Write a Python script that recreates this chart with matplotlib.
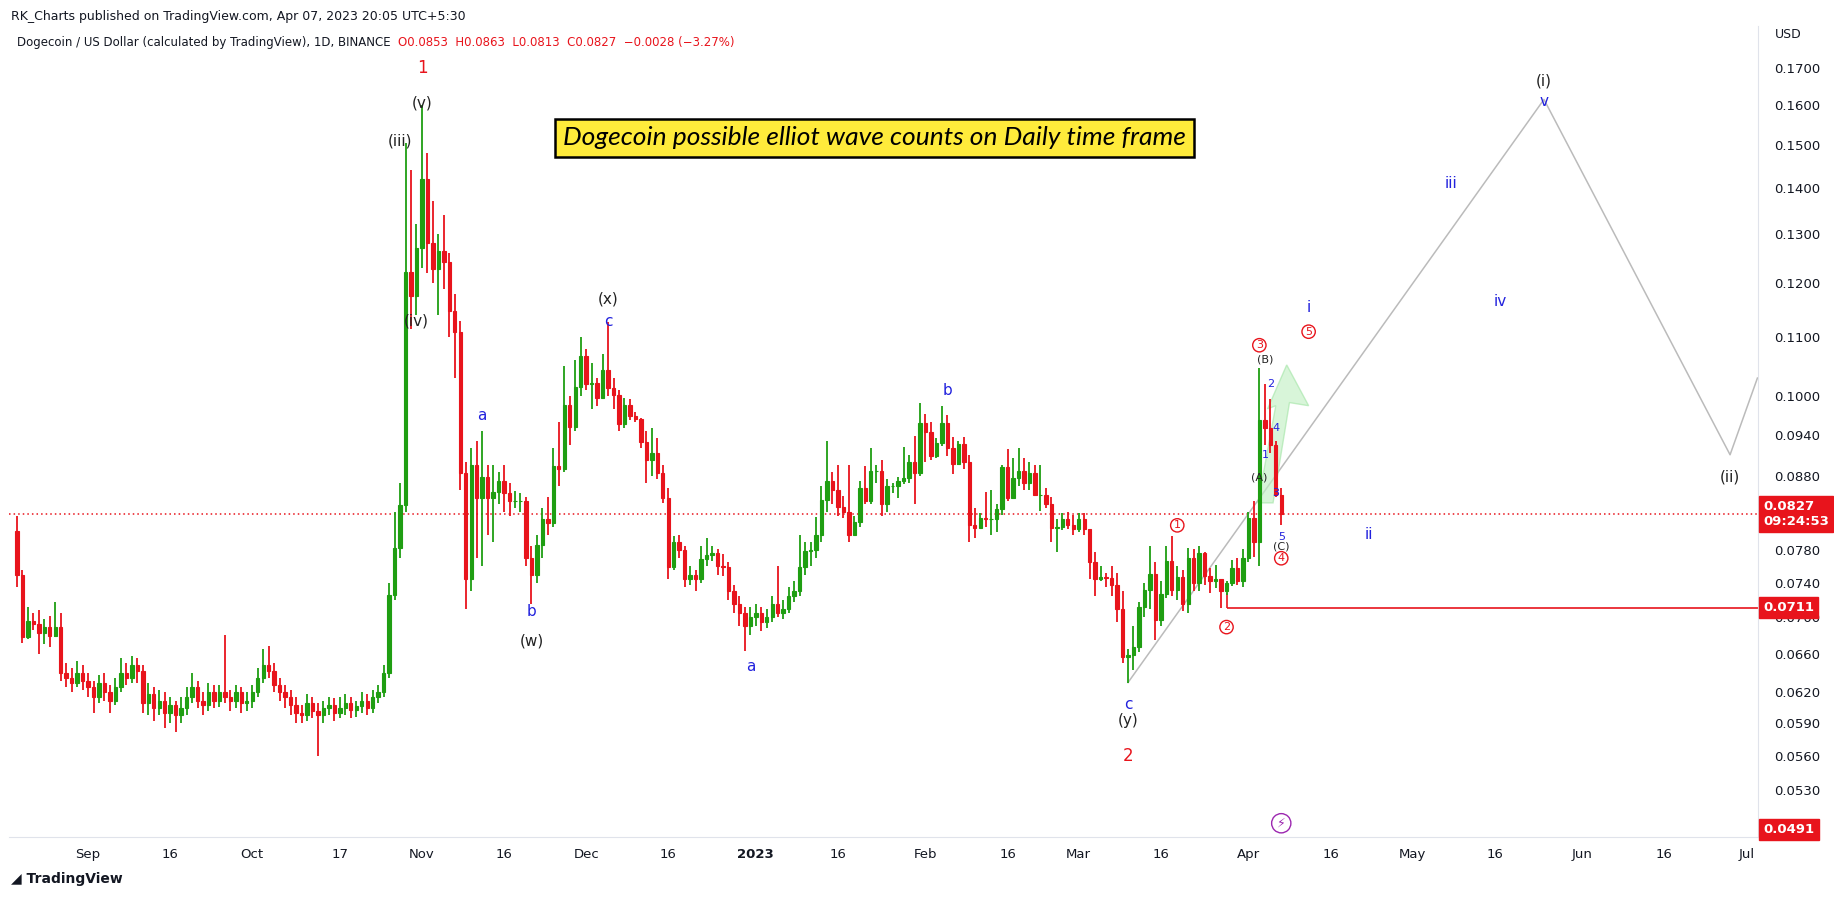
import numpy as np
import pandas as pd
import matplotlib
matplotlib.use("Agg")
import matplotlib.pyplot as plt
import matplotlib.dates as mdates
from matplotlib.patches import Polygon
from matplotlib.ticker import FixedLocator, NullLocator

# === Data (DOGE/USD daily) ===
first_open = 0.0804
closes = [
    0.0749, 0.0678, 0.0696, 0.0693, 0.0682, 0.0689, 0.0679, 0.0689, 0.0640, 0.0635,
    0.0630, 0.0640, 0.0632, 0.0625, 0.0615, 0.0630, 0.0620, 0.0612, 0.0625, 0.0640,
    0.0635, 0.0648, 0.0642, 0.0610, 0.0618, 0.0605, 0.0612, 0.0600, 0.0608, 0.0598,
    0.0605, 0.0615, 0.0625, 0.0612, 0.0608, 0.0620, 0.0612, 0.0620, 0.0615, 0.0612,
    0.0620, 0.0610, 0.0612, 0.0620, 0.0635, 0.0648, 0.0642, 0.0628, 0.0620, 0.0615,
    0.0608, 0.0600, 0.0598, 0.0610, 0.0602, 0.0598, 0.0605, 0.0608, 0.0600, 0.0605,
    0.0610, 0.0603, 0.0607, 0.0612, 0.0605, 0.0615, 0.0620, 0.0640, 0.0726, 0.0783,
    0.0839, 0.1222, 0.1175, 0.1270, 0.1420, 0.1280, 0.1228, 0.1264, 0.1243, 0.1148,
    0.1110, 0.0883, 0.0745, 0.0895, 0.0848, 0.0878, 0.0848, 0.0857, 0.0872, 0.0855,
    0.0845, 0.0845, 0.0845, 0.0770, 0.0750, 0.0787, 0.0820, 0.0815, 0.0893, 0.0890,
    0.0986, 0.0952, 0.1016, 0.1068, 0.1020, 0.1022, 0.0997, 0.1043, 0.1014, 0.1002,
    0.0957, 0.0986, 0.0968, 0.0964, 0.0929, 0.0903, 0.0913, 0.0883, 0.0848, 0.0759,
    0.0791, 0.0780, 0.0745, 0.0750, 0.0745, 0.0769, 0.0774, 0.0777, 0.0760, 0.0759,
    0.0730, 0.0715, 0.0705, 0.0690, 0.0700, 0.0705, 0.0695, 0.0700, 0.0715, 0.0705,
    0.0710, 0.0725, 0.0730, 0.0759, 0.0779, 0.0780, 0.0800, 0.0846, 0.0872, 0.0860,
    0.0837, 0.0830, 0.0800, 0.0816, 0.0863, 0.0845, 0.0886, 0.0887, 0.0840, 0.0865,
    0.0865, 0.0872, 0.0877, 0.0900, 0.0883, 0.0958, 0.0944, 0.0908, 0.0928, 0.0958,
    0.0920, 0.0897, 0.0926, 0.0900, 0.0813, 0.0809, 0.0822, 0.0821, 0.0821, 0.0834,
    0.0892, 0.0849, 0.0877, 0.0887, 0.0869, 0.0883, 0.0853, 0.0853, 0.0841, 0.0809,
    0.0810, 0.0821, 0.0813, 0.0807, 0.0820, 0.0807, 0.0765, 0.0745, 0.0747, 0.0746,
    0.0738, 0.0709, 0.0657, 0.0659, 0.0667, 0.0712, 0.0731, 0.0751, 0.0697, 0.0727,
    0.0766, 0.0731, 0.0747, 0.0715, 0.0770, 0.0740, 0.0776, 0.0748, 0.0742, 0.0745,
    0.0730, 0.0740, 0.0758, 0.0742, 0.0770, 0.0822, 0.0791, 0.0962, 0.0950, 0.0925,
    0.0853, 0.0827,
]
highs = [
    0.0824, 0.0755, 0.0712, 0.0705, 0.0708, 0.0698, 0.0702, 0.0718, 0.0705, 0.0650,
    0.0645, 0.0652, 0.0648, 0.0640, 0.0632, 0.0638, 0.0640, 0.0628, 0.0635, 0.0655,
    0.0650, 0.0658, 0.0655, 0.0648, 0.0630, 0.0625, 0.0622, 0.0620, 0.0615, 0.0612,
    0.0615, 0.0625, 0.0640, 0.0632, 0.0620, 0.0630, 0.0628, 0.0628, 0.0680, 0.0622,
    0.0628, 0.0625, 0.0620, 0.0628, 0.0645, 0.0665, 0.0668, 0.0650, 0.0635, 0.0628,
    0.0622, 0.0615, 0.0608, 0.0618, 0.0615, 0.0610, 0.0612, 0.0615, 0.0614, 0.0615,
    0.0618, 0.0615, 0.0612, 0.0620, 0.0618, 0.0622, 0.0628, 0.0648, 0.0740, 0.0830,
    0.0870, 0.1505, 0.1440, 0.1320, 0.1600, 0.1480, 0.1370, 0.1300, 0.1340, 0.1260,
    0.1180, 0.1130, 0.0900, 0.0920, 0.0930, 0.0945, 0.0895, 0.0895, 0.0885, 0.0895,
    0.0870, 0.0858, 0.0855, 0.0850, 0.0785, 0.0800, 0.0835, 0.0850, 0.0920, 0.0960,
    0.1050, 0.1000, 0.1060, 0.1100, 0.1080, 0.1055, 0.1030, 0.1070, 0.1127, 0.1030,
    0.1010, 0.0998, 0.0995, 0.0975, 0.0966, 0.0945, 0.0950, 0.0935, 0.0895, 0.0862,
    0.0798, 0.0800, 0.0785, 0.0760, 0.0755, 0.0785, 0.0795, 0.0785, 0.0782, 0.0775,
    0.0765, 0.0738, 0.0725, 0.0712, 0.0712, 0.0715, 0.0712, 0.0710, 0.0725, 0.0760,
    0.0720, 0.0735, 0.0742, 0.0800, 0.0790, 0.0790, 0.0823, 0.0865, 0.0930, 0.0885,
    0.0895, 0.0852, 0.0895, 0.0825, 0.0872, 0.0893, 0.0920, 0.0895, 0.0903, 0.0875,
    0.0870, 0.0878, 0.0922, 0.0910, 0.0938, 0.0990, 0.0972, 0.0960, 0.0935, 0.0985,
    0.0970, 0.0937, 0.0930, 0.0937, 0.0910, 0.0835, 0.0828, 0.0857, 0.0860, 0.0840,
    0.0895, 0.0918, 0.0905, 0.0920, 0.0905, 0.0900, 0.0895, 0.0895, 0.0863, 0.0850,
    0.0820, 0.0828, 0.0830, 0.0826, 0.0828, 0.0828, 0.0807, 0.0778, 0.0760, 0.0752,
    0.0760, 0.0752, 0.0730, 0.0665, 0.0690, 0.0717, 0.0740, 0.0785, 0.0765, 0.0742,
    0.0785, 0.0798, 0.0760, 0.0755, 0.0783, 0.0782, 0.0785, 0.0778, 0.0758, 0.0762,
    0.0745, 0.0742, 0.0768, 0.0770, 0.0782, 0.0830, 0.0845, 0.1047, 0.1020, 0.0995,
    0.0930, 0.0863,
]
lows = [
    0.0735, 0.0672, 0.0676, 0.0686, 0.0660, 0.0670, 0.0667, 0.0678, 0.0632, 0.0625,
    0.0620, 0.0625, 0.0622, 0.0615, 0.0600, 0.0610, 0.0612, 0.0600, 0.0608, 0.0620,
    0.0628, 0.0630, 0.0630, 0.0600, 0.0598, 0.0592, 0.0598, 0.0585, 0.0590, 0.0582,
    0.0590, 0.0598, 0.0610, 0.0605, 0.0598, 0.0602, 0.0605, 0.0606, 0.0610, 0.0602,
    0.0605, 0.0600, 0.0602, 0.0605, 0.0615, 0.0630, 0.0635, 0.0620, 0.0612, 0.0605,
    0.0598, 0.0590, 0.0590, 0.0592, 0.0595, 0.0560, 0.0590, 0.0598, 0.0592, 0.0595,
    0.0598, 0.0595, 0.0596, 0.0600, 0.0598, 0.0600, 0.0610, 0.0615, 0.0635, 0.0720,
    0.0770, 0.0830, 0.1115, 0.1140, 0.1230, 0.1220, 0.1200, 0.1140, 0.1190, 0.1100,
    0.1030, 0.0860, 0.0710, 0.0730, 0.0770, 0.0760, 0.0800, 0.0790, 0.0840, 0.0830,
    0.0825, 0.0835, 0.0830, 0.0760, 0.0715, 0.0740, 0.0770, 0.0800, 0.0810, 0.0865,
    0.0885, 0.0925, 0.0945, 0.1000, 0.1010, 0.0980, 0.0985, 0.0997, 0.1000, 0.0980,
    0.0945, 0.0950, 0.0962, 0.0960, 0.0920, 0.0870, 0.0880, 0.0875, 0.0842, 0.0745,
    0.0755, 0.0770, 0.0735, 0.0738, 0.0730, 0.0740, 0.0760, 0.0766, 0.0750, 0.0748,
    0.0720, 0.0705, 0.0690, 0.0663, 0.0680, 0.0690, 0.0685, 0.0688, 0.0695, 0.0700,
    0.0698, 0.0705, 0.0718, 0.0725, 0.0750, 0.0760, 0.0770, 0.0790, 0.0830, 0.0840,
    0.0825, 0.0822, 0.0790, 0.0805, 0.0810, 0.0840, 0.0840, 0.0870, 0.0825, 0.0830,
    0.0855, 0.0848, 0.0868, 0.0870, 0.0840, 0.0880, 0.0900, 0.0903, 0.0905, 0.0923,
    0.0908, 0.0882, 0.0895, 0.0890, 0.0790, 0.0795, 0.0808, 0.0810, 0.0800, 0.0803,
    0.0826, 0.0845, 0.0847, 0.0865, 0.0860, 0.0860, 0.0853, 0.0831, 0.0835, 0.0790,
    0.0778, 0.0806, 0.0807, 0.0800, 0.0803, 0.0799, 0.0745, 0.0725, 0.0742, 0.0735,
    0.0725, 0.0695, 0.0650, 0.0630, 0.0643, 0.0662, 0.0700, 0.0710, 0.0675, 0.0690,
    0.0722, 0.0725, 0.0720, 0.0707, 0.0705, 0.0730, 0.0730, 0.0738, 0.0728, 0.0734,
    0.0711, 0.0726, 0.0736, 0.0738, 0.0735, 0.0765, 0.0772, 0.0760, 0.0925, 0.0912,
    0.0850, 0.0813,
]
dates = pd.date_range("2022-08-19", periods=len(closes), freq="D")
opens = [first_open] + closes[:-1]

# projected wave path (date, price)
proj_dates = pd.to_datetime(["2023-03-10", "2023-05-25", "2023-06-28", "2023-07-03"])
proj_prices = [0.0630, 0.1615, 0.0910, 0.1030]

# translucent green arrow outline (date, price)
arrow_dates = pd.to_datetime(["2023-04-02 18:00", "2023-04-05 12:00", "2023-04-08 12:00",
                              "2023-04-12 00:00", "2023-04-08 00:00", "2023-04-04 12:00",
                              "2023-04-06 00:00"])
arrow_prices = [0.0842, 0.0842, 0.0990, 0.0985, 0.1052, 0.0980, 0.0985]

# wave labels: (text, date, price, color, size, circled)
labels = [
    ("1", "2022-11-01", 0.1700, "red", 12, False),
    ("(v)", "2022-11-01", 0.1605, "black", 11, False),
    ("(iii)", "2022-10-28", 0.1510, "black", 11, False),
    ("(iv)", "2022-10-31", 0.1130, "black", 11, False),
    ("a", "2022-11-12", 0.0970, "blue", 11, False),
    ("b", "2022-11-21", 0.0707, "blue", 11, False),
    ("(w)", "2022-11-21", 0.0674, "black", 11, False),
    ("(x)", "2022-12-05", 0.1170, "black", 11, False),
    ("c", "2022-12-05", 0.1128, "blue", 11, False),
    ("a", "2022-12-31", 0.0647, "blue", 11, False),
    ("b", "2023-02-05", 0.1010, "blue", 11, False),
    ("c", "2023-03-10", 0.0608, "blue", 11, False),
    ("(y)", "2023-03-10", 0.0593, "black", 11, False),
    ("2", "2023-03-10", 0.0560, "red", 12, False),
    ("1", "2023-03-19", 0.0812, "red", 8, True),
    ("2", "2023-03-28", 0.0689, "red", 8, True),
    ("3", "2023-04-03", 0.1086, "red", 8, True),
    ("(B)", "2023-04-04", 0.1062, "black", 8, False),
    ("2", "2023-04-05", 0.1020, "blue", 8, False),
    ("4", "2023-04-06", 0.0950, "blue", 8, False),
    ("1", "2023-04-04", 0.0909, "blue", 8, False),
    ("(A)", "2023-04-03", 0.0877, "black", 8, False),
    ("3", "2023-04-06", 0.0855, "blue", 8, False),
    ("5", "2023-04-07", 0.0797, "blue", 8, False),
    ("(C)", "2023-04-07", 0.0785, "black", 8, False),
    ("4", "2023-04-07", 0.0770, "red", 8, True),
    ("i", "2023-04-12", 0.1155, "blue", 11, False),
    ("5", "2023-04-12", 0.1110, "red", 8, True),
    ("ii", "2023-04-23", 0.0800, "blue", 11, False),
    ("iii", "2023-05-08", 0.1410, "blue", 11, False),
    ("iv", "2023-05-17", 0.1165, "blue", 11, False),
    ("(i)", "2023-05-25", 0.1665, "black", 11, False),
    ("v", "2023-05-25", 0.1610, "blue", 11, False),
    ("(ii)", "2023-06-28", 0.0878, "black", 11, False),
]

ytick_values = [0.0530, 0.0560, 0.0590, 0.0620, 0.0660, 0.0700, 0.0740, 0.0780,
                0.0880, 0.0940, 0.1000, 0.1100, 0.1200, 0.1300, 0.1400, 0.1500,
                0.1600, 0.1700]
xtick_dates = ["2022-09-01", "2022-09-16", "2022-10-01", "2022-10-17", "2022-11-01",
               "2022-11-16", "2022-12-01", "2022-12-16", "2023-01-01", "2023-01-16",
               "2023-02-01", "2023-02-16", "2023-03-01", "2023-03-16", "2023-04-01",
               "2023-04-16", "2023-05-01", "2023-05-16", "2023-06-01", "2023-06-16",
               "2023-07-01"]
xtick_labels = ["Sep", "16", "Oct", "17", "Nov", "16", "Dec", "16", "2023", "16",
                "Feb", "16", "Mar", "16", "Apr", "16", "May", "16", "Jun", "16", "Jul"]

last_price = 0.0827
support = 0.0711
bottom_price = 0.0491

GREEN = "#1f9e12"
RED = "#e8141c"
BLUE = "#2222dd"

plt.rcParams["font.family"] = "DejaVu Sans"
fig = plt.figure(figsize=(18.34, 8.99), dpi=100)
ax = fig.add_axes([0.005, 0.069, 0.9535, 0.902])
ax.set_yscale("log")
ax.set_ylim(bottom_price, 0.1818)
ax.set_xlim(pd.Timestamp("2022-08-17 14:00"), pd.Timestamp("2023-07-03 02:00"))

# candles
x = mdates.date2num(dates)
colors = [GREEN if c >= o else RED for o, c in zip(opens, closes)]
ax.vlines(x, lows, highs, colors=colors, linewidth=1.3, zorder=3)
bottoms = [min(o, c) for o, c in zip(opens, closes)]
heights = [abs(c - o) for o, c in zip(opens, closes)]
ax.bar(x, heights, bottom=bottoms, width=0.62, color=colors, edgecolor=colors,
       linewidth=0.8, zorder=4)

# projection lines
ax.plot(mdates.date2num(proj_dates), proj_prices, color="#bbbbbb", linewidth=1.1, zorder=2)

# green arrow
ax.add_patch(Polygon(list(zip(mdates.date2num(arrow_dates), arrow_prices)), closed=True,
                     facecolor="#c4f0c6", edgecolor="#a6e6a9", alpha=0.65, zorder=2))

# last price and support lines
ax.axhline(last_price, color=RED, linestyle=(0, (1, 2)), linewidth=1.1, zorder=1)
sup_start = mdates.date2num(pd.Timestamp("2023-03-28"))
ax.hlines(support, sup_start, ax.get_xlim()[1], color=RED, linewidth=1.2, zorder=2)
ax.vlines(sup_start, support, 0.0728, color=RED, linewidth=1.2, zorder=2)

for text, d, p, col, size, circ in labels:
    c = {"red": RED, "blue": BLUE, "black": "#222222"}[col]
    kw = {}
    if circ:
        kw["bbox"] = dict(boxstyle="circle,pad=0.15", facecolor="white", edgecolor=c, linewidth=1.0)
    ax.text(mdates.date2num(pd.Timestamp(d)), p, text, color=c, fontsize=size,
            ha="center", va="center", zorder=6, **kw)

# lightning icon
ax.text(mdates.date2num(pd.Timestamp("2023-04-07")), 0.0502, "\u26a1", color="#9c27b0",
        fontsize=9, ha="center", va="center",
        bbox=dict(boxstyle="circle,pad=0.25", facecolor="white", edgecolor="#9c27b0"))

# axes styling
for s in ["top", "left"]:
    ax.spines[s].set_visible(False)
ax.spines["right"].set_color("#e0e3eb")
ax.spines["bottom"].set_color("#e0e3eb")
ax.yaxis.tick_right()
ax.yaxis.set_major_locator(FixedLocator(ytick_values))
ax.yaxis.set_minor_locator(NullLocator())
ax.set_yticklabels([f"{v:.4f}" for v in ytick_values])
ax.tick_params(axis="y", length=0, labelsize=9.5, labelcolor="#131722", pad=12)
ax.set_xticks(mdates.date2num(pd.to_datetime(xtick_dates)))
ax.set_xticklabels(xtick_labels)
ax.tick_params(axis="x", length=0, labelsize=9.5, labelcolor="#131722", pad=8)
for lbl in ax.get_xticklabels():
    if lbl.get_text() == "2023":
        lbl.set_fontweight("bold")

# price tags on the axis
def price_tag(price, text, fs=9.5):
    ax.annotate(text, xy=(1.0, price), xycoords=("axes fraction", "data"),
                xytext=(4, 0), textcoords="offset points", ha="left", va="center",
                color="white", fontsize=fs, fontweight="bold", zorder=10,
                bbox=dict(boxstyle="square,pad=0.3", facecolor=RED, edgecolor=RED),
                annotation_clip=False)

price_tag(last_price, "0.0827\n09:24:53")
price_tag(support, "0.0711")
price_tag(0.0497, "0.0491")
fig.text(0.968, 0.958, "USD", fontsize=9, color="#131722")

# title box
ax.text(0.495, 0.862, "Dogecoin possible elliot wave counts on Daily time frame",
        transform=ax.transAxes, fontsize=19, style="italic", ha="center", va="center",
        family="Lato", zorder=8,
        bbox=dict(boxstyle="square,pad=0.3", facecolor="#ffeb3b", edgecolor="black", linewidth=1.8))

# header texts
fig.text(0.006, 0.982, "RK_Charts published on TradingView.com, Apr 07, 2023 20:05 UTC+5:30",
         fontsize=9, color="#131722", va="center")
hdr = "Dogecoin / US Dollar (calculated by TradingView), 1D, BINANCE  "
t = fig.text(0.009, 0.953, hdr, fontsize=8.5, color="#131722", va="center")
fig.canvas.draw()
bb = t.get_window_extent()
ohlc = "O0.0853  H0.0863  L0.0813  C0.0827  \u22120.0028 (\u22123.27%)"
fig.text(bb.x1 / fig.bbox.width, 0.953, ohlc, fontsize=8.5, color=RED, va="center")
fig.text(0.006, 0.022, "\u25e2 TradingView", fontsize=10, color="#131722", fontweight="bold",
         va="center")

fig.savefig("out.png", dpi=100, facecolor="white")
